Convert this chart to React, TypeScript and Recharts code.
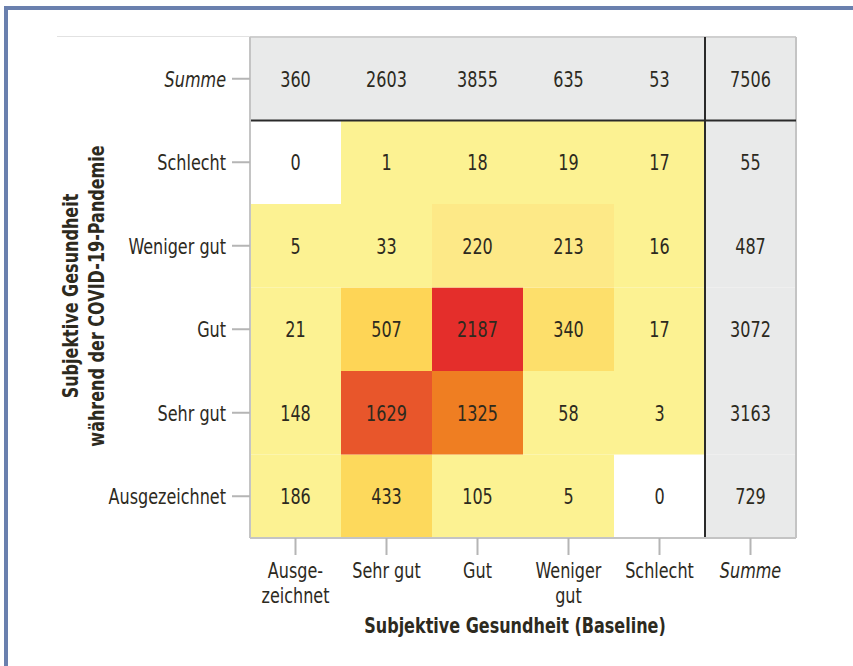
import React from 'react';
import { BarChart, Bar, XAxis, YAxis, Cell, LabelList, ReferenceLine } from 'recharts';

const FONT = "'DejaVu Sans Condensed', 'Liberation Sans Narrow', 'Arial Narrow', sans-serif";
const TEXT = '#2d2a1e';
const SX = 0.81;

// Columns: Subjektive Gesundheit (Baseline)
const columns = ['Ausgezeichnet', 'Sehr gut', 'Gut', 'Weniger gut', 'Schlecht', 'Summe'];
const columnTickLines = [['Ausge-', 'zeichnet'], ['Sehr gut'], ['Gut'], ['Weniger', 'gut'], ['Schlecht'], ['Summe']];

// Rows (bottom to top): Subjektive Gesundheit während der Pandemie
const rowLabels = ['Ausgezeichnet', 'Sehr gut', 'Gut', 'Weniger gut', 'Schlecht', 'Summe'];
const rowTicks = [0.5, 1.5, 2.5, 3.5, 4.5, 5.5];

const countsAusgezeichnet = [186, 433, 105, 5, 0, 729];
const countsSehrGut = [148, 1629, 1325, 58, 3, 3163];
const countsGut = [21, 507, 2187, 340, 17, 3072];
const countsWenigerGut = [5, 33, 220, 213, 16, 487];
const countsSchlecht = [0, 1, 18, 19, 17, 55];
const countsSumme = [360, 2603, 3855, 635, 53, 7506];

const countsByRow = [countsAusgezeichnet, countsSehrGut, countsGut, countsWenigerGut, countsSchlecht, countsSumme];

const data = columns.map((col, c) => {
  const d: any = { col };
  countsByRow.forEach((row, r) => {
    d[`r${r}`] = 1;
    d[`c${r}`] = row[c];
  });
  return d;
});

function cellColor(value: number, r: number, c: number): string {
  if (r === 5 || c === 5) return '#e9eaea';
  if (value === 0) return '#ffffff';
  if (value <= 200) return '#fcf292';
  if (value <= 250) return '#fde987';
  if (value <= 400) return '#fddf6b';
  if (value <= 450) return '#fdd95c';
  if (value <= 600) return '#fed556';
  if (value <= 1400) return '#ef7e22';
  if (value <= 1800) return '#e8562b';
  return '#e42e2b';
}

const CText = (props: any) => {
  const { x, y, anchor = 'middle', size = 22, weight = 'normal', italic = false, rotate = 0, dy = 0, children } = props;
  const t = `translate(${x},${y})${rotate ? ` rotate(${rotate})` : ''} scale(${SX},1)`;
  return (
    <text
      transform={t}
      x={0}
      y={dy}
      textAnchor={anchor}
      fill={TEXT}
      fontSize={size}
      fontWeight={weight}
      fontStyle={italic ? 'italic' : 'normal'}
      fontFamily={FONT}
    >
      {children}
    </text>
  );
};

const XTick = (props: any) => {
  const { x, y, payload } = props;
  const idx = columns.indexOf(payload.value);
  const lines = columnTickLines[idx] || [payload.value];
  const italic = payload.value === 'Summe';
  return (
    <g>
      {lines.map((l, i) => (
        <CText key={i} x={x} y={y} dy={21 + i * 25} italic={italic}>
          {l}
        </CText>
      ))}
    </g>
  );
};

const YTick = (props: any) => {
  const { x, y, payload } = props;
  const idx = rowTicks.indexOf(payload.value);
  const label = rowLabels[idx];
  return (
    <CText x={x - 4} y={y} dy={8} anchor="end" italic={label === 'Summe'}>
      {label}
    </CText>
  );
};

const CellLabel = (props: any) => {
  const { x, y, width, height, value } = props;
  return (
    <CText x={Number(x) + Number(width) / 2} y={Number(y) + Number(height) / 2} dy={8}>
      {value}
    </CText>
  );
};

const XTitle = (props: any) => {
  const vb = props.viewBox || { x: 250, y: 538, width: 546, height: 128 };
  const cx = vb.x + vb.width / 2 - 8;
  return (
    <CText x={cx} y={vb.y + 95} weight="bold">
      Subjektive Gesundheit (Baseline)
    </CText>
  );
};

const YTitle = () => {
  const cy = 296;
  return (
    <g>
      <CText x={70} y={cy} dy={8} rotate={-90} weight="bold">
        Subjektive Gesundheit
      </CText>
      <CText x={96} y={cy} dy={8} rotate={-90} weight="bold">
        während der COVID-19-Pandemie
      </CText>
    </g>
  );
};

export default function App() {
  return (
    <div style={{ position: 'absolute', left: 0, top: 0, width: 853, height: 666, background: '#ffffff', overflow: 'hidden' }}>
      <div style={{ position: 'absolute', left: 4, top: 6, width: 849, height: 4, background: '#6a80ae' }} />
      <div style={{ position: 'absolute', left: 4, top: 6, width: 4, height: 660, background: '#6a80ae' }} />
      <div style={{ position: 'absolute', left: 57, top: 36, width: 193, height: 1, background: '#e2e2e2' }} />
      <div style={{ position: 'absolute', left: 0, top: 0 }}>
        <BarChart
          width={853}
          height={666}
          data={data}
          margin={{ top: 37, right: 57, bottom: 0, left: 0 }}
          barCategoryGap={0}
          barGap={0}
        >
          {countsByRow.map((row, r) => (
            <Bar key={r} dataKey={`r${r}`} stackId="s" isAnimationActive={false}>
              {row.map((v, c) => (
                <Cell key={c} fill={cellColor(v, r, c)} />
              ))}
              <LabelList dataKey={`c${r}`} content={<CellLabel />} />
            </Bar>
          ))}
          <ReferenceLine y={6} stroke="#cfcfcf" strokeWidth={2} />
          <ReferenceLine x="Summe" position="end" stroke="#c4c4c4" strokeWidth={2} />
          <ReferenceLine y={5} stroke="#2a2a2a" strokeWidth={2} />
          <ReferenceLine x="Summe" position="start" stroke="#2a2a2a" strokeWidth={2} />
          <XAxis
            dataKey="col"
            type="category"
            height={128}
            tick={<XTick />}
            tickSize={17}
            axisLine={{ stroke: '#c4c4c4', strokeWidth: 2 }}
            tickLine={{ stroke: '#b5b5b5', strokeWidth: 2 }}
            interval={0}
            label={(p: any) => <XTitle {...p} />}
          />
          <YAxis
            type="number"
            domain={[0, 6]}
            ticks={rowTicks}
            width={250}
            tick={<YTick />}
            tickSize={18}
            axisLine={{ stroke: '#c4c4c4', strokeWidth: 2 }}
            tickLine={{ stroke: '#b5b5b5', strokeWidth: 2 }}
            interval={0}
            allowDataOverflow
            label={() => <YTitle />}
          />
        </BarChart>
      </div>
    </div>
  );
}
